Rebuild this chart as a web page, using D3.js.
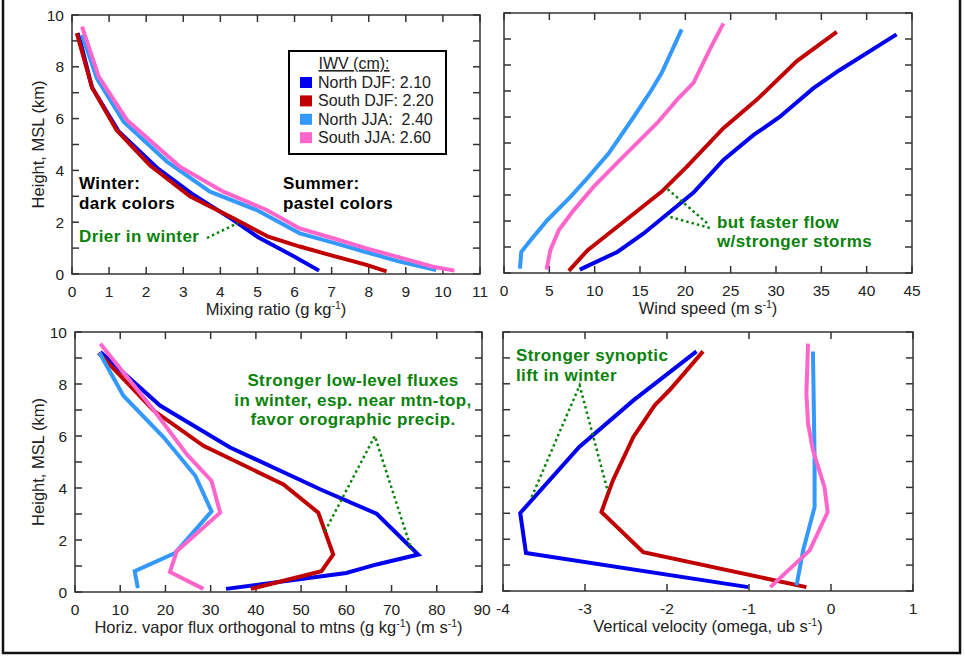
<!DOCTYPE html>
<html>
<head>
<meta charset="utf-8">
<script src="https://d3js.org/d3.v7.min.js"></script>
<style>
  body { margin: 0; background: #fff; }
  text { font-family: "Liberation Sans", Arial, sans-serif; }
</style>
</head>
<body>
<div id="chart-area"></div>
<script>
// Series names and IWV values (legend)
var seriesNames = ["North DJF: 2.10", "South DJF: 2.20", "North JJA:  2.40", "South JJA: 2.60"];
var seriesColors = ["#0000ee", "#c00000", "#3399ff", "#ff66cc"];

// Mixing ratio (g/kg) vs height (km) -- [value, height]
var mixNorthDJF = [[6.66,0.13],[6.0,0.67],[5.02,1.42],[4.35,2.08],[3.23,3.1],[2.29,4.1],[1.26,5.5],[0.54,7.2],[0.22,9.0],[0.15,9.3]];
var mixSouthDJF = [[8.48,0.1],[7.94,0.35],[7.04,0.7],[6.14,1.06],[5.29,1.44],[4.35,2.15],[3.18,3.0],[2.1,4.2],[1.2,5.56],[0.54,7.2],[0.13,9.3]];
var mixNorthJJA = [[9.82,0.15],[8.83,0.48],[7.94,0.84],[7.04,1.21],[6.14,1.57],[4.98,2.47],[3.72,3.18],[2.56,4.34],[1.39,5.88],[0.67,7.55],[0.27,9.23]];
var mixSouthJJA = [[10.31,0.13],[9.73,0.28],[8.83,0.64],[7.94,0.99],[7.04,1.38],[6.14,1.76],[5.25,2.47],[4.08,3.18],[2.91,4.14],[1.48,5.95],[0.72,7.62],[0.27,9.55]];

// Wind speed (m/s) vs height
var windNorthDJF = [[8.36,0.13],[12.5,0.81],[15.4,1.52],[20.9,3.09],[24.2,4.35],[27.5,5.3],[30.4,6.0],[34.1,7.1],[37.0,7.8],[43.3,9.18]];
var windSouthDJF = [[7.15,0.08],[9.2,0.87],[12.5,1.78],[17.4,3.13],[20.2,4.1],[24.2,5.57],[27.9,6.67],[32.3,8.15],[36.7,9.27]];
var windNorthJJA = [[1.76,0.17],[1.9,0.81],[2.93,1.26],[4.77,2.03],[7.33,2.93],[9.17,3.64],[11.55,4.6],[14.3,6.0],[16.2,7.0],[17.4,7.7],[19.6,9.37]];
var windSouthJJA = [[4.7,0.13],[5.1,0.87],[6.05,1.65],[7.7,2.42],[9.9,3.32],[12.8,4.35],[16.9,5.77],[19.1,6.67],[20.9,7.31],[22.7,8.6],[24.2,9.6]];

// Horizontal vapor flux vs height
var fluxNorthDJF = [[33.4,0.12],[60,0.73],[66.7,1.06],[75.9,1.44],[66.7,3.01],[54.2,3.95],[34.3,5.56],[18.8,7.17],[5.6,9.23]];
var fluxSouthDJF = [[38.9,0.12],[54.5,0.8],[57.1,1.44],[53.8,3.05],[46.1,4.14],[28.4,5.62],[17.4,6.98],[5.2,9.2]];
var fluxNorthJJA = [[13.9,0.15],[13.2,0.8],[22.1,1.5],[30.2,3.1],[26.6,4.47],[19.6,5.95],[10.7,7.55],[5.4,9.2]];
var fluxSouthJJA = [[28.4,0.12],[21,0.77],[22.5,1.57],[32.1,3.05],[30.2,4.27],[24.7,5.3],[17.4,7.0],[5.6,9.55]];

// Vertical velocity (omega) vs height
var omegaNorthDJF = [[-1.01,0.15],[-3.72,1.47],[-3.79,3.01],[-3.07,5.56],[-2.41,7.36],[-1.64,9.25]];
var omegaSouthDJF = [[-0.30,0.15],[-2.29,1.5],[-2.80,3.05],[-2.66,4.27],[-2.41,5.95],[-2.15,7.17],[-1.97,7.75],[-1.56,9.25]];
var omegaNorthJJA = [[-0.42,0.22],[-0.34,1.57],[-0.20,3.24],[-0.20,5.05],[-0.22,9.25]];
var omegaSouthJJA = [[-0.74,0.15],[-0.26,1.57],[-0.04,3.05],[-0.08,4.02],[-0.22,5.43],[-0.28,6.46],[-0.30,7.62],[-0.28,9.55]];

// Axis ticks
var heightTicks = [0,1,2,3,4,5,6,7,8,9,10];
var mixTicks = [0,1,2,3,4,5,6,7,8,9,10,11];
var windTicks = [0,5,10,15,20,25,30,35,40,45];
var fluxTicks = [0,10,20,30,40,50,60,70,80,90];
var omegaTicks = [-4,-3,-2,-1,0,1];

// Annotation pointers (data units)
var mixPointer = [[[3.64,1.39],[4.47,1.97]]];
var windPointer = [[[22.4,1.92],[17.76,3.31]], [[22.7,1.73],[17.97,2.19]]];
var fluxPointer = [[[55.3,2.34],[66.3,6.0],[74.4,1.63]]];
var omegaPointer = [[[-3.65,3.63],[-3.065,7.94],[-2.72,3.82]]];

var green = "#0a820a";

var svg = d3.select("#chart-area").append("svg")
    .attr("width", 965)
    .attr("height", 656);

svg.append("rect").attr("width", 965).attr("height", 656).attr("fill", "#fff");

// Outer frame (top edge is cut off in the original)
svg.append("rect")
    .attr("x", 3).attr("y", -10)
    .attr("width", 957).attr("height", 663)
    .attr("fill", "none")
    .attr("stroke", "#111")
    .attr("stroke-width", 2.5);

function addLabel(g, parts, x, y, anchor, rotate) {
    var t = g.append("text")
        .attr("x", x).attr("y", y)
        .attr("text-anchor", anchor)
        .attr("font-size", 16.5)
        .attr("fill", "#222");
    if (rotate) t.attr("transform", "rotate(-90," + x + "," + y + ")");
    parts.forEach(function(p) {
        if (p[1]) {
            t.append("tspan").attr("font-size", 10.5).attr("dy", -6).text(p[0]);
        } else {
            t.append("tspan").attr("dy", p[2] ? 6 : 0).text(p[0]);
        }
    });
}

function makePanel(o) {
    var g = svg.append("g");
    var x = d3.scaleLinear().domain(o.xDomain).range([o.x0, o.x1]);
    var y = d3.scaleLinear().domain([0, 10]).range([o.y1, o.y0]);
    var tl = 7;

    // ticks on all four sides, pointing inward
    o.xTicks.forEach(function(v) {
        g.append("line").attr("x1", x(v)).attr("x2", x(v)).attr("y1", o.y1).attr("y2", o.y1 - tl)
            .attr("stroke", "#333").attr("stroke-width", 1.5);
        g.append("line").attr("x1", x(v)).attr("x2", x(v)).attr("y1", o.y0).attr("y2", o.y0 + tl)
            .attr("stroke", "#333").attr("stroke-width", 1.5);
        g.append("text").attr("x", x(v)).attr("y", o.y1 + 23)
            .attr("text-anchor", "middle").attr("font-size", 15.5).attr("fill", "#222")
            .text(String(v));
    });
    heightTicks.forEach(function(v) {
        g.append("line").attr("x1", o.x0).attr("x2", o.x0 + tl).attr("y1", y(v)).attr("y2", y(v))
            .attr("stroke", "#333").attr("stroke-width", 1.5);
        g.append("line").attr("x1", o.x1).attr("x2", o.x1 - tl).attr("y1", y(v)).attr("y2", y(v))
            .attr("stroke", "#333").attr("stroke-width", 1.5);
        if (o.yLabels && v % 2 === 0) {
            g.append("text").attr("x", o.x0 - 8).attr("y", y(v) + 5.5)
                .attr("text-anchor", "end").attr("font-size", 15.5).attr("fill", "#222")
                .text(String(v));
        }
    });

    // plot frame
    g.append("rect")
        .attr("x", o.x0).attr("y", o.y0)
        .attr("width", o.x1 - o.x0).attr("height", o.y1 - o.y0)
        .attr("fill", "none").attr("stroke", "#333").attr("stroke-width", 1.5);

    // profiles
    var line = d3.line().x(function(d) { return x(d[0]); }).y(function(d) { return y(d[1]); });
    o.series.forEach(function(s, i) {
        g.append("path")
            .attr("d", line(s))
            .attr("fill", "none")
            .attr("stroke", seriesColors[i])
            .attr("stroke-width", 4)
            .attr("stroke-linejoin", "miter");
    });

    // dotted green pointers
    o.pointers.forEach(function(p) {
        g.append("path")
            .attr("d", line(p))
            .attr("fill", "none")
            .attr("stroke", green)
            .attr("stroke-width", 2.5)
            .attr("stroke-dasharray", "2.5,3");
    });

    addLabel(g, o.xLabel, (o.x0 + o.x1) / 2, o.y1 + 41, "middle", false);
    if (o.yLabels) {
        addLabel(g, [["Height, MSL (km)"]], 44, (o.y0 + o.y1) / 2, "middle", true);
    }
    return g;
}

makePanel({
    x0: 72, x1: 480, y0: 15, y1: 274,
    xDomain: [0, 11], xTicks: mixTicks, yLabels: true,
    series: [mixNorthDJF, mixSouthDJF, mixNorthJJA, mixSouthJJA],
    pointers: mixPointer,
    xLabel: [["Mixing ratio (g kg"], ["-1", true], [")", false, true]]
});

makePanel({
    x0: 504, x1: 912, y0: 13, y1: 273,
    xDomain: [0, 45], xTicks: windTicks, yLabels: false,
    series: [windNorthDJF, windSouthDJF, windNorthJJA, windSouthJJA],
    pointers: windPointer,
    xLabel: [["Wind speed (m s"], ["-1", true], [")", false, true]]
});

makePanel({
    x0: 75, x1: 482, y0: 332, y1: 592,
    xDomain: [0, 90], xTicks: fluxTicks, yLabels: true,
    series: [fluxNorthDJF, fluxSouthDJF, fluxNorthJJA, fluxSouthJJA],
    pointers: fluxPointer,
    xLabel: [["Horiz. vapor flux orthogonal to mtns (g kg"], ["-1", true], [") (m s", false, true], ["-1", true], [")", false, true]]
});

makePanel({
    x0: 503, x1: 913, y0: 332, y1: 591,
    xDomain: [-4, 1], xTicks: omegaTicks, yLabels: false,
    series: [omegaNorthDJF, omegaSouthDJF, omegaNorthJJA, omegaSouthJJA],
    pointers: omegaPointer,
    xLabel: [["Vertical velocity (omega, ub s"], ["-1", true], [")", false, true]]
});

// Legend
var legend = svg.append("g");
legend.append("rect")
    .attr("x", 289).attr("y", 51)
    .attr("width", 157).attr("height", 103)
    .attr("fill", "#fff").attr("stroke", "#000").attr("stroke-width", 2);
legend.append("text")
    .attr("x", 354).attr("y", 69)
    .attr("text-anchor", "middle")
    .attr("font-size", 16).attr("fill", "#222")
    .attr("text-decoration", "underline")
    .text("IWV (cm):");
seriesNames.forEach(function(name, i) {
    legend.append("rect")
        .attr("x", 300).attr("y", 77 + i * 18.4)
        .attr("width", 12).attr("height", 11)
        .attr("fill", seriesColors[i]);
    legend.append("text")
        .attr("x", 318).attr("y", 88 + i * 18.4)
        .attr("font-size", 16).attr("fill", "#222")
        .style("white-space", "pre")
        .text(name);
});

// Annotations (one text element per note, one tspan per line)
function note(lines, x, y, color, anchor) {
    var t = svg.append("text")
        .attr("x", x).attr("y", y)
        .attr("text-anchor", anchor || "start")
        .attr("font-size", 17).attr("font-weight", "bold")
        .attr("letter-spacing", 0.4)
        .attr("fill", color);
    lines.forEach(function(s, i) {
        t.append("tspan")
            .attr("x", x)
            .attr("dy", i === 0 ? 0 : 19.6)
            .text(s);
    });
}

note(["Winter:", "dark colors"], 79, 189, "#000");
note(["Summer:", "pastel colors"], 283, 189, "#000");
note(["Drier in winter"], 79, 242, green);
note(["but faster flow", "w/stronger storms"], 717, 227.5, green);
note(["Stronger low-level fluxes", "in winter, esp. near mtn-top,", "favor orographic precip."], 353, 386, green, "middle");
note(["Stronger synoptic", "lift in winter"], 516, 361, green);
</script>
</body>
</html>
